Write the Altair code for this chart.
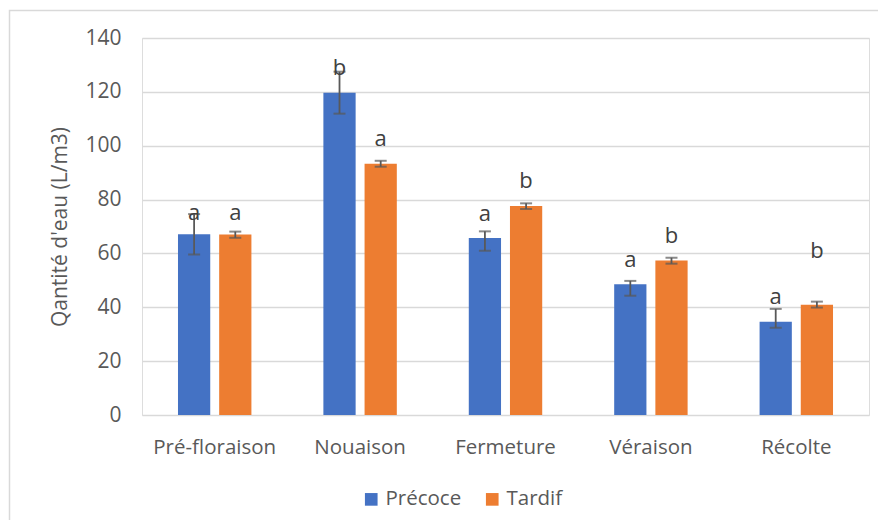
import altair as alt
import pandas as pd

categories = ["Pré-floraison", "Nouaison", "Fermeture", "Véraison", "Récolte"]
series = ["Précoce", "Tardif"]

precoce = [67.1, 119.7, 65.7, 48.6, 34.6]
tardif = [67.0, 93.3, 77.6, 57.4, 40.9]
precoce_lo = [59.6, 111.9, 61.0, 44.3, 32.4]
precoce_hi = [74.6, 127.5, 68.2, 49.8, 39.4]
tardif_lo = [65.8, 92.2, 76.5, 56.2, 39.9]
tardif_hi = [68.1, 94.4, 78.6, 58.4, 42.1]
precoce_letters = ["a", "b", "a", "a", "a"]
tardif_letters = ["a", "a", "b", "b", "b"]
precoce_letter_y = [75.0, 128.9, 74.6, 57.6, 43.8]
tardif_letter_y = [75.0, 102.5, 86.9, 66.5, 60.9]

rows = []
for i, c in enumerate(categories):
    rows.append(dict(cat=c, serie="Précoce", val=precoce[i], lo=precoce_lo[i],
                     hi=precoce_hi[i], letter=precoce_letters[i], ly=precoce_letter_y[i]))
    rows.append(dict(cat=c, serie="Tardif", val=tardif[i], lo=tardif_lo[i],
                     hi=tardif_hi[i], letter=tardif_letters[i], ly=tardif_letter_y[i]))
df = pd.DataFrame(rows)

FONT = "Open Sans"
GREY = "#595959"

x = alt.X("cat:N", sort=categories, title=None,
          scale=alt.Scale(paddingInner=0.495, paddingOuter=0.2475),
          axis=alt.Axis(labelAngle=0, labelFontSize=20.5, labelColor=GREY, labelFont=FONT,
                        labelPadding=22, ticks=False, domain=False))
xoff = alt.XOffset("serie:N", sort=series,
                   scale=alt.Scale(paddingInner=0.217, paddingOuter=0))
color = alt.Color("serie:N", sort=series, title=None,
                  scale=alt.Scale(domain=series, range=["#4472C4", "#ED7D31"]),
                  legend=alt.Legend(orient="none", legendX=219, legendY=451,
                                    direction="horizontal", symbolType="square",
                                    symbolSize=160, symbolStrokeWidth=0,
                                    labelFontSize=20.5, labelColor=GREY, labelFont=FONT,
                                    columnPadding=20, symbolOpacity=1))
yscale = alt.Scale(domain=[0, 140])

base = alt.Chart(df)

bars = base.mark_bar(opacity=1).encode(
    x=x, xOffset=xoff,
    y=alt.Y("val:Q", scale=yscale, title="Qantité d'eau (L/m3)",
            axis=alt.Axis(values=[0, 20, 40, 60, 80, 100, 120, 140], labelFontSize=21,
                          labelColor=GREY, labelFont=FONT, labelPadding=21,
                          titleFontSize=21, titleColor=GREY, titleFont=FONT,
                          titleFontWeight="normal", titlePadding=14,
                          ticks=False, domain=False, gridColor="#d9d9d9", gridWidth=1.5)),
    color=color,
)

rules = base.mark_rule(color=GREY, strokeWidth=1.8).encode(
    x=x, xOffset=xoff, y=alt.Y("lo:Q", scale=yscale), y2="hi:Q")

caps_lo = base.mark_tick(color=GREY, size=12, thickness=2, orient="horizontal").encode(
    x=x, xOffset=xoff, y=alt.Y("lo:Q", scale=yscale))
caps_hi = base.mark_tick(color=GREY, size=12, thickness=2, orient="horizontal").encode(
    x=x, xOffset=xoff, y=alt.Y("hi:Q", scale=yscale))

letters = base.mark_text(fontSize=22, color="#404040", font=FONT, baseline="middle").encode(
    x=x, xOffset=xoff, y=alt.Y("ly:Q", scale=yscale), text="letter:N")

border = alt.Chart(pd.DataFrame({"k": [0]})).mark_rect(
    fill=None, stroke="#d9d9d9", strokeWidth=1.5, clip=False).encode(
    x=alt.value(-132.5), x2=alt.value(760), y=alt.value(-27.5), y2=alt.value(520))

chart = alt.layer(border, bars, rules, caps_lo, caps_hi, letters).properties(
    width=727, height=377,
    autosize=alt.AutoSizeParams(type="none"),
    padding={"left": 134, "top": 30, "right": 9, "bottom": 105},
).configure_view(stroke=None).configure(background="white")

chart.save("out.html", embed_options={"renderer": "svg", "actions": False})
